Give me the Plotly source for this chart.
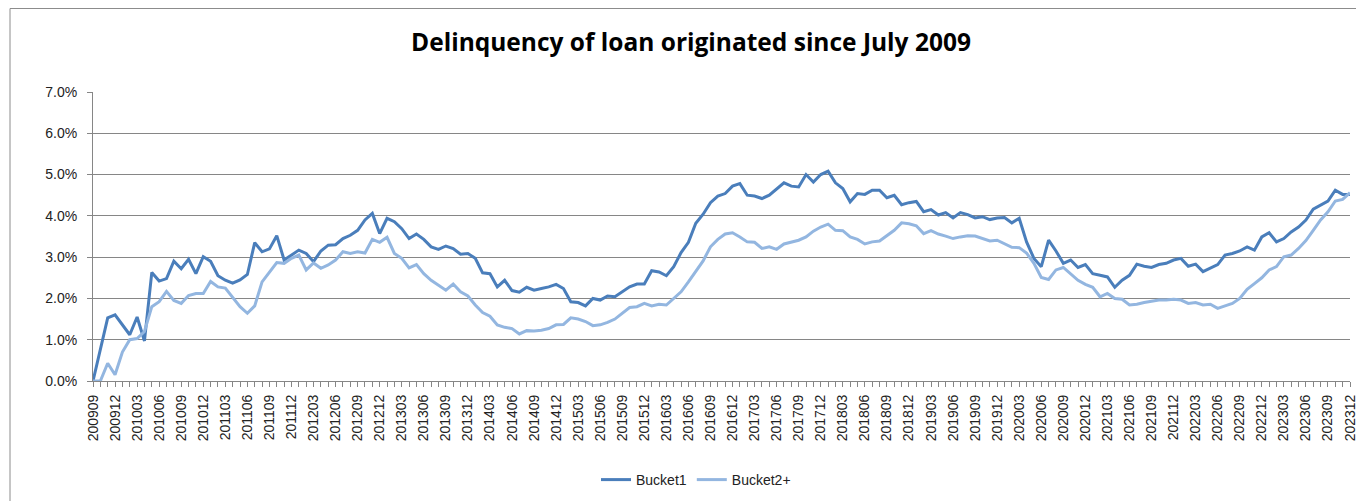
import plotly.graph_objects as go

months = []
y, m = 2009, 9
while (y, m) <= (2023, 12):
    months.append(f"{y}{m:02d}")
    m += 1
    if m > 12:
        m = 1
        y += 1

bucket1 = [
    0.0, 0.8, 1.53, 1.6, 1.35, 1.12, 1.55, 0.97, 2.63, 2.42,
    2.48, 2.9, 2.72, 2.95, 2.6, 3.01, 2.9, 2.55, 2.44, 2.37,
    2.45, 2.58, 3.35, 3.13, 3.2, 3.52, 2.93, 3.05, 3.17, 3.09,
    2.89, 3.15, 3.29, 3.3, 3.45, 3.53, 3.65, 3.9, 4.06, 3.57,
    3.94, 3.86, 3.69, 3.45, 3.56, 3.43, 3.25, 3.19, 3.27, 3.21,
    3.07, 3.09, 2.97, 2.62, 2.6, 2.28, 2.44, 2.19, 2.15, 2.27,
    2.2, 2.24, 2.28, 2.34, 2.24, 1.92, 1.9, 1.82, 2.0, 1.96,
    2.06, 2.04, 2.16, 2.28, 2.35, 2.35, 2.67, 2.64, 2.55, 2.77,
    3.11, 3.36, 3.82, 4.04, 4.32, 4.48, 4.54, 4.72, 4.78, 4.5,
    4.48, 4.42, 4.5, 4.66, 4.8, 4.72, 4.7, 5.0, 4.82, 5.0,
    5.08, 4.8, 4.66, 4.34, 4.54, 4.52, 4.62, 4.62, 4.44, 4.5,
    4.27, 4.32, 4.35, 4.1, 4.15, 4.02, 4.08, 3.95, 4.08, 4.03,
    3.95, 3.98, 3.91, 3.95, 3.96, 3.83, 3.94, 3.37, 2.97, 2.77,
    3.41, 3.15, 2.85, 2.93, 2.75, 2.82, 2.6, 2.56, 2.52, 2.27,
    2.44, 2.56, 2.83, 2.78, 2.75, 2.82, 2.85, 2.93, 2.97, 2.78,
    2.83, 2.65, 2.73, 2.82, 3.05, 3.09, 3.15, 3.25, 3.17, 3.49,
    3.59, 3.37, 3.45, 3.61, 3.73, 3.9, 4.16, 4.26, 4.36, 4.62,
    4.52, 4.52,
]

bucket2 = [
    0.0, 0.0, 0.43, 0.15, 0.7, 1.0, 1.03, 1.2, 1.8, 1.92,
    2.17, 1.95, 1.88, 2.07, 2.12, 2.12, 2.41, 2.28, 2.25, 2.03,
    1.8, 1.64, 1.82, 2.4, 2.65, 2.87, 2.85, 2.97, 3.05, 2.69,
    2.86, 2.73, 2.81, 2.93, 3.13, 3.09, 3.13, 3.1, 3.43, 3.36,
    3.48, 3.09, 2.97, 2.74, 2.82, 2.6, 2.44, 2.32, 2.2, 2.35,
    2.16, 2.06, 1.84, 1.66, 1.57, 1.36, 1.3, 1.27, 1.14, 1.22,
    1.21, 1.23, 1.27, 1.36, 1.37, 1.53, 1.5, 1.44, 1.34, 1.36,
    1.42, 1.5, 1.64, 1.78, 1.8, 1.88, 1.82, 1.86, 1.84, 2.0,
    2.16, 2.4, 2.65, 2.91, 3.25, 3.43, 3.56, 3.59, 3.49, 3.37,
    3.36, 3.21, 3.25, 3.19, 3.32, 3.37, 3.41, 3.49, 3.63, 3.73,
    3.8, 3.65, 3.64, 3.49, 3.43, 3.32, 3.37, 3.39, 3.51, 3.65,
    3.83, 3.81, 3.76, 3.57, 3.64, 3.56, 3.51, 3.45, 3.49, 3.52,
    3.51, 3.45, 3.39, 3.41, 3.32, 3.24, 3.23, 3.1, 2.85, 2.51,
    2.46, 2.69, 2.75, 2.6, 2.44, 2.34, 2.27, 2.04, 2.12, 2.0,
    1.98, 1.84, 1.86, 1.9, 1.93, 1.96, 1.96, 1.98, 1.96, 1.88,
    1.9, 1.84, 1.86, 1.76, 1.82, 1.88, 2.0, 2.22, 2.36, 2.5,
    2.69, 2.77, 3.01, 3.05, 3.21, 3.4, 3.65, 3.9, 4.1, 4.36,
    4.4, 4.56,
]

series_names = ["Bucket1", "Bucket2+"]
y_ticks = [0, 1, 2, 3, 4, 5, 6, 7]
y_tick_labels = [f"{v:.1f}%" for v in y_ticks]

x_idx = list(range(len(months)))
tick_idx = x_idx[::3]
tick_txt = months[::3]

# the page body has an 8px margin, so lay out in shifted coordinates
OFF = 8
W, H = 1364 - OFF, 501 - OFF
L, R, T, B = 93 - OFF, 1350 - OFF, 92 - OFF, 381 - OFF
pw, ph = R - L, B - T

fig = go.Figure()
fig.add_trace(go.Scatter(x=x_idx, y=bucket1, mode="lines", name=series_names[0],
                         line=dict(color="#4A7EBB", width=3)))
fig.add_trace(go.Scatter(x=x_idx, y=bucket2, mode="lines", name=series_names[1],
                         line=dict(color="#93B6E0", width=3)))

fig.update_layout(
    width=W, height=H,
    margin=dict(l=L, r=W - R, t=T, b=H - B, autoexpand=False),
    paper_bgcolor="white", plot_bgcolor="white",
    title=dict(text="<b>Delinquency of loan originated since July 2009</b>",
               x=(691 - OFF) / W, xanchor="center", y=1 - (42 - OFF) / H, yanchor="middle",
               font=dict(family="Open Sans", size=24.5, color="black")),
    showlegend=True,
    legend=dict(orientation="h", x=(696 - OFF - L) / pw, xanchor="center",
                yref="container", y=1 - (480 - OFF) / H, yanchor="middle",
                font=dict(family="Liberation Sans", size=14, color="#222")),
    font=dict(family="Liberation Sans"),
)

fig.update_xaxes(
    automargin=False,
    range=[0, len(months) - 1],
    tickmode="array", tickvals=tick_idx, ticktext=tick_txt,
    tickangle=-90, tickfont=dict(family="Liberation Sans", size=14, color="#222"),
    ticks="outside", ticklen=5, tickcolor="#868686", ticklabelstandoff=2,
    minor=dict(dtick=1, ticks="outside", ticklen=5, tickcolor="#868686", showgrid=False),
    showline=True, linecolor="#868686", linewidth=1,
    showgrid=False, zeroline=False,
)
fig.update_yaxes(
    automargin=False,
    range=[0, 7],
    tickmode="array", tickvals=y_ticks, ticktext=y_tick_labels,
    tickfont=dict(family="Liberation Sans", size=14, color="#222"),
    ticks="outside", ticklen=5, tickcolor="#868686", ticklabelstandoff=7,
    showline=True, linecolor="#868686", linewidth=1,
    showgrid=True, gridcolor="#868686", gridwidth=1, zeroline=False,
)

# chart outer border
fig.add_shape(type="rect", xref="paper", yref="paper",
              x0=(10 - OFF - L) / pw, x1=(1375 - OFF - L) / pw,
              y0=(B - (515 - OFF)) / ph, y1=(B - (8 - OFF) - 0.5) / ph,
              line=dict(color="#8C8C8C", width=1))

fig.write_html("out.html")
